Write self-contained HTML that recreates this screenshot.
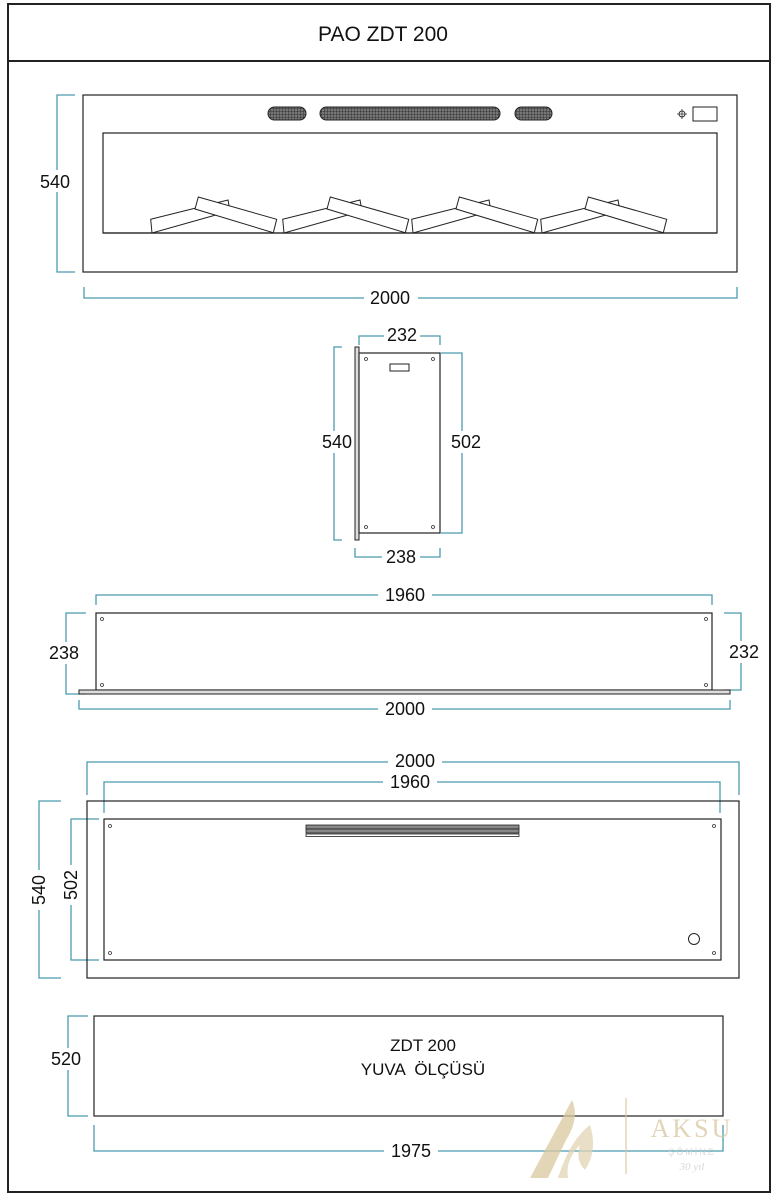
<!DOCTYPE html>
<html><head><meta charset="utf-8"><style>
html,body{margin:0;padding:0;background:#fff;}
svg{display:block;}
text{font-family:"Liberation Sans",sans-serif;}
</style></head><body>
<svg width="779" height="1200" viewBox="0 0 779 1200" xmlns="http://www.w3.org/2000/svg">
<defs>
<pattern id="mesh" width="3" height="3" patternUnits="userSpaceOnUse">
<rect width="3" height="3" fill="#777"/><path d="M0 0H3M0 0V3" stroke="#222" stroke-width="0.8"/>
</pattern>
<g id="logs">
<polygon points="152,233 150.7,219.3 228,200 230,211" fill="#fff" stroke="#222" stroke-width="1"/>
<polygon points="198.3,197 276.7,219.3 273.3,232.7 195,209" fill="#fff" stroke="#222" stroke-width="1"/>
</g>
</defs>
<rect x="8" y="4" width="762" height="1188" fill="none" stroke="#222" stroke-width="2"/>
<line x1="8" y1="61" x2="770" y2="61" stroke="#222" stroke-width="2"/>
<text x="383" y="41" font-size="21" text-anchor="middle" fill="#111">PAO ZDT 200</text>

<g stroke="#4a9bb0" stroke-width="1.3" fill="none">
<path d="M75 95H57V272H75"/>
<path d="M84 287V298H737V287"/>
<path d="M359 345V336H440V345"/>
<path d="M342 347H334V540H342"/>
<path d="M441 353H462V533H441"/>
<path d="M355 548V557H440V548"/>
<path d="M96 605V595H712V605"/>
<path d="M86 613H66V694H86"/>
<path d="M724 613H741V690H724"/>
<path d="M79 700V709H730V700"/>
<path d="M87 795V762H739V795"/>
<path d="M104 813V782H720V813"/>
<path d="M61 801H39V978H61"/>
<path d="M99 819H71V960H99"/>
<path d="M88 1016H68V1116H88"/>
<path d="M94 1125V1151H723V1125"/>
</g>
<g font-size="18" fill="#111" text-anchor="middle">
<rect x="36" y="170" width="40" height="22" fill="#fff"/><text x="55" y="188">540</text>
<rect x="364" y="288" width="54" height="20" fill="#fff"/><text x="390" y="304">2000</text>
<rect x="384" y="325" width="36" height="20" fill="#fff"/><text x="402" y="341">232</text>
<rect x="318" y="431" width="38" height="22" fill="#fff"/><text x="337" y="448">540</text>
<rect x="447" y="431" width="38" height="22" fill="#fff"/><text x="466" y="448">502</text>
<rect x="382" y="547" width="38" height="20" fill="#fff"/><text x="401" y="563">238</text>
<rect x="378" y="585" width="54" height="20" fill="#fff"/><text x="405" y="601">1960</text>
<rect x="45" y="642" width="38" height="22" fill="#fff"/><text x="64" y="659">238</text>
<rect x="725" y="641" width="38" height="22" fill="#fff"/><text x="744" y="658">232</text>
<rect x="378" y="699" width="54" height="20" fill="#fff"/><text x="405" y="715">2000</text>
<rect x="388" y="751" width="54" height="20" fill="#fff"/><text x="415" y="767">2000</text>
<rect x="383" y="772" width="54" height="20" fill="#fff"/><text x="410" y="788">1960</text>
<rect x="28" y="870" width="22" height="40" fill="#fff"/><text transform="translate(45,890) rotate(-90)">540</text>
<rect x="60" y="865" width="22" height="40" fill="#fff"/><text transform="translate(77,885) rotate(-90)">502</text>
<rect x="47" y="1048" width="38" height="22" fill="#fff"/><text x="66" y="1065">520</text>
<rect x="384" y="1141" width="54" height="20" fill="#fff"/><text x="411" y="1157">1975</text>
</g>

<rect x="83" y="95" width="654" height="177" fill="none" stroke="#222" stroke-width="1.2"/>
<rect x="103" y="133" width="614" height="100" fill="none" stroke="#222" stroke-width="1.2"/>
<rect x="268" y="107" width="38" height="13" rx="6.5" fill="url(#mesh)" stroke="#222"/>
<rect x="320" y="107" width="180" height="13" rx="6.5" fill="url(#mesh)" stroke="#222"/>
<rect x="515" y="107" width="37" height="13" rx="6.5" fill="url(#mesh)" stroke="#222"/>
<rect x="693" y="107" width="24" height="14" fill="#fff" stroke="#222"/>
<circle cx="682" cy="114" r="3" fill="none" stroke="#333"/><path d="M677 114H687M682 109V119" stroke="#333" stroke-width="0.8"/>
<use href="#logs"/>
<use href="#logs" x="132"/>
<use href="#logs" x="261"/>
<use href="#logs" x="390"/>
<line x1="103" y1="233" x2="717" y2="233" stroke="#222" stroke-width="1.2"/>

<rect x="355" y="347" width="4" height="193" fill="#ddd" stroke="#222"/>
<rect x="359" y="353" width="81" height="180" fill="#fff" stroke="#222" stroke-width="1.2"/>
<rect x="390" y="364" width="19" height="7" fill="#fff" stroke="#222"/>
<g fill="none" stroke="#333" stroke-width="0.8">
<circle cx="366" cy="359" r="1.5"/><circle cx="433" cy="359" r="1.5"/><circle cx="366" cy="527" r="1.5"/><circle cx="433" cy="527" r="1.5"/>
</g>

<rect x="96" y="613" width="616" height="77" fill="#fff" stroke="#222" stroke-width="1.2"/>
<rect x="79" y="690" width="651" height="4" fill="#ddd" stroke="#222"/>
<g fill="none" stroke="#333" stroke-width="0.8">
<circle cx="102" cy="619" r="1.5"/><circle cx="706" cy="619" r="1.5"/><circle cx="102" cy="685" r="1.5"/><circle cx="706" cy="685" r="1.5"/>
</g>

<rect x="87" y="801" width="652" height="177" fill="none" stroke="#222" stroke-width="1.2"/>
<rect x="104" y="819" width="617" height="141" fill="none" stroke="#222" stroke-width="1.2"/>
<rect x="306" y="825" width="213" height="4" fill="#888" stroke="#222" stroke-width="0.8"/>
<rect x="306" y="829" width="213" height="4" fill="#888" stroke="#222" stroke-width="0.8"/>
<rect x="306" y="834" width="213" height="2.5" fill="#fff" stroke="#222" stroke-width="0.8"/>
<circle cx="694" cy="939" r="5.5" fill="none" stroke="#222"/>
<g fill="none" stroke="#333" stroke-width="0.8">
<circle cx="110" cy="826" r="1.5"/><circle cx="714" cy="826" r="1.5"/><circle cx="110" cy="953" r="1.5"/><circle cx="714" cy="953" r="1.5"/>
</g>

<rect x="94" y="1016" width="629" height="100" fill="none" stroke="#222" stroke-width="1.2"/>
<text x="423" y="1051" font-size="17" text-anchor="middle" fill="#111">ZDT 200</text>
<text x="423" y="1075" font-size="17" text-anchor="middle" fill="#111" xml:space="preserve">YUVA  ÖLÇÜSÜ</text>

<g opacity="0.75">
<path d="M530 1178 L572 1100 Q580 1118 566 1140 L548 1178 Z" fill="#d9c9a0"/>
<path d="M558 1178 Q570 1140 590 1125 Q598 1150 585 1170 Q575 1160 580 1145 Q565 1160 568 1178 Z" fill="#e2d5b5"/>
<line x1="626" y1="1098" x2="626" y2="1174" stroke="#d9c9a0" stroke-width="1.5"/>
<text x="692" y="1137" font-size="26" text-anchor="middle" fill="#d8c7a0" style="font-family:'Liberation Serif',serif" letter-spacing="3">AKSU</text>
<text x="692" y="1155" font-size="9" text-anchor="middle" fill="#ccc" letter-spacing="2">ŞÖMİNE</text>
<text x="692" y="1170" font-size="11" text-anchor="middle" fill="#ccc" font-style="italic" style="font-family:'Liberation Serif',serif">30 yıl</text>
</g>
</svg>
</body></html>
